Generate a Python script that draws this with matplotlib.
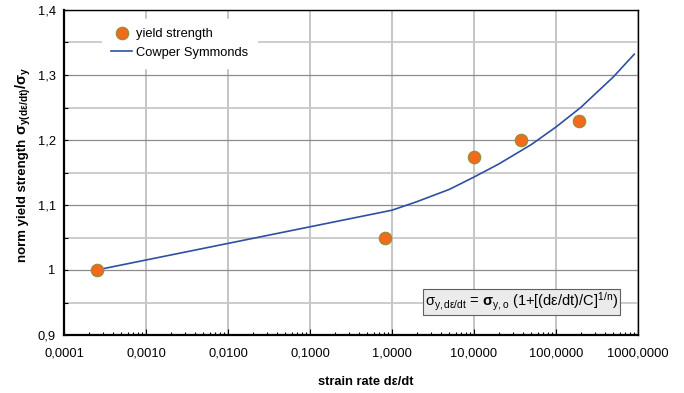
import matplotlib
matplotlib.use("Agg")
import matplotlib.pyplot as plt
from matplotlib.ticker import FixedLocator, LogLocator, NullFormatter, MultipleLocator

# measured yield strength (normalised) vs strain rate
test_rate = [0.00025, 0.82, 10.0, 37.0, 189.0]
test_norm = [1.000, 1.049, 1.174, 1.200, 1.230]

# Cowper Symmonds fit
cs_rate = [0.00025, 1.0, 2.0, 5.0, 10.0, 20.0, 50.0, 100.0, 200.0, 500.0, 900.0]
cs_norm = [1.000, 1.092, 1.105, 1.124, 1.143, 1.163, 1.193, 1.220, 1.250, 1.297, 1.332]

x_ticks = [0.0001, 0.001, 0.01, 0.1, 1.0, 10.0, 100.0, 1000.0]
x_labels = ["0,0001", "0,0010", "0,0100", "0,1000", "1,0000", "10,0000", "100,0000", "1000,0000"]
y_ticks = [0.9, 1.0, 1.1, 1.2, 1.3, 1.4]
y_labels = ["0,9", "1", "1,1", "1,2", "1,3", "1,4"]

plt.rcParams["font.family"] = ["Liberation Sans", "DejaVu Sans"]
plt.rcParams["mathtext.fontset"] = "custom"
plt.rcParams["mathtext.rm"] = "Liberation Sans"
plt.rcParams["mathtext.it"] = "Liberation Sans"
plt.rcParams["mathtext.bf"] = "Liberation Sans:bold"

fig = plt.figure(figsize=(6.84, 3.93), dpi=100)
ax = fig.add_axes([64 / 684, 58 / 393, 574 / 684, 325 / 393])

ax.plot(cs_rate, cs_norm, color="#2F4FA2", linewidth=1.2, label="Cowper Symmonds", zorder=3)
ax.plot(test_rate, test_norm, linestyle="none", marker="o", markersize=9,
        markerfacecolor="#F26A1B", markeredgecolor="#8F8F3A", markeredgewidth=0.8,
        label="yield strength", zorder=4)

ax.set_xscale("log")
ax.set_xlim(0.0001, 1000)
ax.set_ylim(0.9, 1.4)

ax.xaxis.set_major_locator(FixedLocator(x_ticks))
ax.set_xticklabels(x_labels)
ax.xaxis.set_minor_locator(LogLocator(base=10, subs=range(2, 10), numticks=20))
ax.xaxis.set_minor_formatter(NullFormatter())
ax.set_yticks(y_ticks)
ax.set_yticklabels(y_labels)
ax.yaxis.set_minor_locator(MultipleLocator(0.05))

ax.tick_params(axis="both", which="both", direction="in", labelsize=9.3, colors="black")
ax.tick_params(axis="x", which="major", length=4, width=0.8, pad=9)
ax.tick_params(axis="x", which="minor", length=2.5, width=0.8)
ax.tick_params(axis="y", which="major", length=3, width=0.8, pad=6)
ax.tick_params(axis="y", which="minor", length=3, width=0.8)

ax.grid(True, axis="x", which="major", color="#C0C0C0", linewidth=1.3)
ax.grid(True, axis="y", which="major", color="#8C8C8C", linewidth=0.9)
ax.grid(True, axis="y", which="minor", color="#C8C8C8", linewidth=1.3)
ax.set_axisbelow(True)

for side in ["top", "right"]:
    ax.spines[side].set_linewidth(1.0)
for side in ["left", "bottom"]:
    ax.spines[side].set_linewidth(1.6)

ax.set_xlabel("strain rate d\u03b5/dt", fontsize=9.3, fontweight="bold")
ax.xaxis.set_label_coords(0.525, -0.125)

# y label: plain bold words followed by a larger bold sigma expression
ylab = fig.text(23 / 684, (393 - 262) / 393, "norm yield strength", rotation=90,
                ha="center", va="bottom", fontsize=9.5, fontweight="bold")
ax.annotate(r"$\mathbf{\sigma_{y(d\epsilon/dt)}/\sigma_y}$", xy=(0.5, 1.0), xycoords=ylab,
            xytext=(0, 3), textcoords="offset points", rotation=90,
            ha="center", va="bottom", fontsize=10.5, annotation_clip=False)

handles, labels = ax.get_legend_handles_labels()
leg = ax.legend(handles[::-1], labels[::-1], loc="upper left", bbox_to_anchor=(0.067, 0.972),
                borderaxespad=0, fontsize=9.3, frameon=True, fancybox=False,
                edgecolor="white", facecolor="white", framealpha=1,
                handlelength=1.6, handletextpad=0.3, labelspacing=0.5, borderpad=0.7)

ax.text(0.797, 0.1025,
        r"$\sigma_{y,d\epsilon/dt}$ = $\mathbf{\sigma}_{y,o}$ (1+[(d$\epsilon$/dt)/C]$^{1/n}$)",
        transform=ax.transAxes, ha="center", va="center", fontsize=10.5,
        bbox=dict(boxstyle="square,pad=0.12", facecolor="#EBEBEB", edgecolor="#606060", linewidth=0.8),
        zorder=5)

fig.savefig("out.png", dpi=100)
